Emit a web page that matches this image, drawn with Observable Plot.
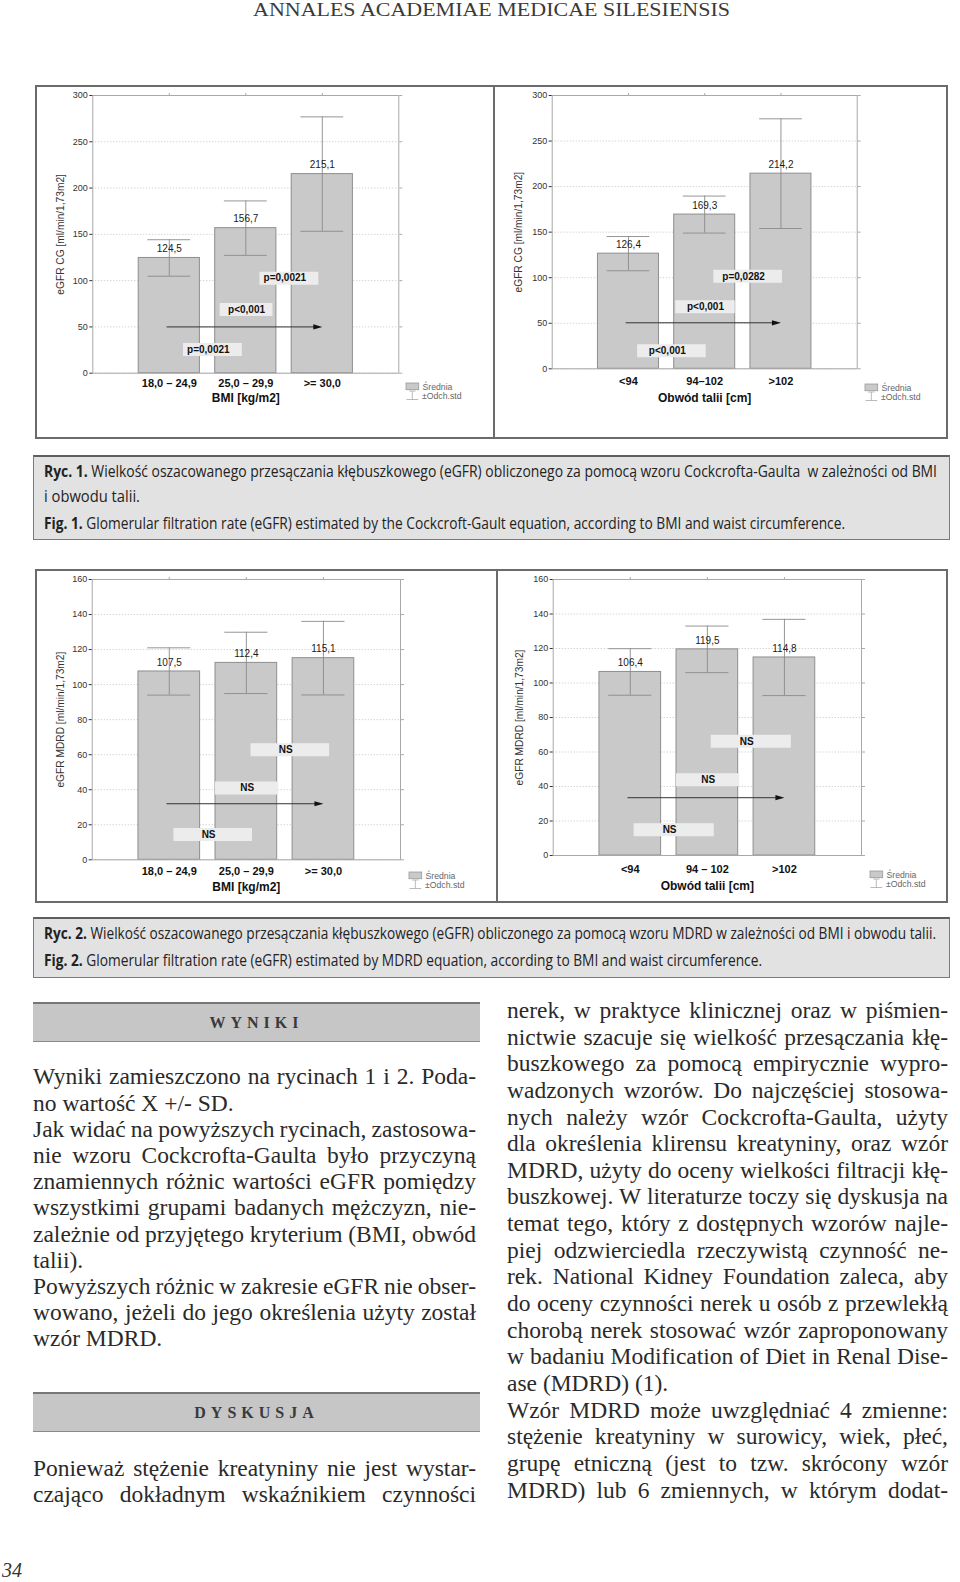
<!DOCTYPE html>
<html><head><meta charset="utf-8">
<script src="https://cdn.jsdelivr.net/npm/d3@7"></script>
<script src="https://cdn.jsdelivr.net/npm/@observablehq/plot@0.6"></script>
<style>
html,body{margin:0;padding:0;background:#fff;}
#page{position:relative;width:960px;height:1582px;overflow:hidden;background:#fff;}
.fig{position:absolute;border:2px solid #6b6b6b;box-sizing:border-box;}
.vdiv{position:absolute;width:2px;background:#6b6b6b;}
.cap{position:absolute;background:#e2e2e2;border:1.5px solid #7a7a7a;border-top:2.5px solid #5f5f5f;box-sizing:border-box;}
.capline{position:absolute;left:44px;font-family:"Open Sans",sans-serif;font-size:16px;line-height:18px;color:#222;white-space:nowrap;transform-origin:0 50%;}
.capline b{font-weight:700;}
.sec{position:absolute;left:33px;width:447px;height:40px;background:#c6c6c6;border-top:2px solid #777;border-bottom:1px solid #8a8a8a;box-sizing:border-box;font-family:"Liberation Serif",serif;font-weight:bold;font-size:16px;letter-spacing:5px;color:#3a3a3a;text-align:center;line-height:37px;}
.line{position:absolute;font-family:"Liberation Serif",serif;font-size:23.5px;color:#2a2a2a;white-space:nowrap;line-height:23.5px;transform-origin:0 50%;}
.chart{position:absolute;}
.chart svg{overflow:visible;}
.legend{position:absolute;}
</style></head><body><div id="page"></div>
<script>
// ---------------- DATA ----------------
const bmiCats = ["18,0 – 24,9", "25,0 – 29,9", ">= 30,0"];
const waistCatsCG = ["<94", "94–102", ">102"];
const waistCatsMDRD = ["<94", "94 – 102", ">102"];
const cgTicks = [0, 50, 100, 150, 200, 250, 300];
const mdrdTicks = [0, 20, 40, 60, 80, 100, 120, 140, 160];

const cgBmiMean = [124.5, 156.7, 215.1];
const cgBmiSD = [19.7, 29.4, 61.8];
const cgWaistMean = [126.4, 169.3, 214.2];
const cgWaistSD = [18.8, 20.3, 60.2];
const mdrdBmiMean = [107.5, 112.4, 115.1];
const mdrdBmiSD = [13.5, 17.5, 21.0];
const mdrdWaistMean = [106.4, 119.5, 114.8];
const mdrdWaistSD = [13.5, 13.5, 22.1];

const pairs = [[1, 2], [1, 3], [2, 3]];
const cgBmiP = ["p=0,0021", "p<0,001", "p=0,0021"];
const cgBmiPLevel = [25.6, 68.8, 102.6];
const cgWaistP = ["p<0,001", "p<0,001", "p=0,0282"];
const cgWaistPLevel = [19.9, 68.0, 101.5];
const mdrdBmiP = ["NS", "NS", "NS"];
const mdrdBmiPLevel = [14.4, 41.0, 62.8];
const mdrdWaistP = ["NS", "NS", "NS"];
const mdrdWaistPLevel = [14.9, 43.9, 66.2];
const arrowLevels = [50, 50.5, 32, 33.5];

const yLabelCG = "eGFR CG [ml/min/1,73m2]";
const yLabelMDRD = "eGFR MDRD [ml/min/1,73m2]";
const xLabelBMI = "BMI [kg/m2]";
const xLabelWaist = "Obwód talii [cm]";
const legendLabels = ["Średnia", "±Odch.std"];

const headerText = "ANNALES ACADEMIAE MEDICAE SILESIENSIS";
const caption1 = [
  "<b>Ryc. 1.</b> Wielkość oszacowanego przesączania kłębuszkowego (eGFR) obliczonego za pomocą wzoru Cockcrofta-Gaulta\u00a0 w zależności od BMI",
  "i obwodu talii.",
  "<b>Fig. 1.</b> Glomerular filtration rate (eGFR) estimated by the Cockcroft-Gault equation, according to BMI and waist circumference."
];
const caption2 = [
  "<b>Ryc. 2.</b> Wielkość oszacowanego przesączania kłębuszkowego (eGFR) obliczonego za pomocą wzoru MDRD w zależności od BMI i obwodu talii.",
  "<b>Fig. 2.</b> Glomerular filtration rate (eGFR) estimated by MDRD equation, according to BMI and waist circumference."
];
const leftLines1 = [
  "Wyniki zamieszczono na rycinach 1 i 2. Poda-",
  "no wartość X +/- SD.",
  "Jak widać na powyższych rycinach, zastosowa-",
  "nie wzoru Cockcrofta-Gaulta było przyczyną",
  "znamiennych różnic wartości eGFR pomiędzy",
  "wszystkimi grupami badanych mężczyzn, nie-",
  "zależnie od przyjętego kryterium (BMI, obwód",
  "talii).",
  "Powyższych różnic w zakresie eGFR nie obser-",
  "wowano, jeżeli do jego określenia użyty został",
  "wzór MDRD."
];
const leftLast1 = [1, 7, 10];
const leftLines2 = [
  "Ponieważ stężenie kreatyniny nie jest wystar-",
  "czająco dokładnym wskaźnikiem czynności"
];
const rightLines = [
  "nerek, w praktyce klinicznej oraz w piśmien-",
  "nictwie szacuje się wielkość przesączania kłę-",
  "buszkowego za pomocą empirycznie wypro-",
  "wadzonych wzorów. Do najczęściej stosowa-",
  "nych należy wzór Cockcrofta-Gaulta, użyty",
  "dla określenia klirensu kreatyniny, oraz wzór",
  "MDRD, użyty do oceny wielkości filtracji kłę-",
  "buszkowej. W literaturze toczy się dyskusja na",
  "temat tego, który z dostępnych wzorów najle-",
  "piej odzwierciedla rzeczywistą czynność ne-",
  "rek. National Kidney Foundation zaleca, aby",
  "do oceny czynności nerek u osób z przewlekłą",
  "chorobą nerek stosować wzór zaproponowany",
  "w badaniu Modification of Diet in Renal Dise-",
  "ase (MDRD) (1).",
  "Wzór MDRD może uwzględniać 4 zmienne:",
  "stężenie kreatyniny w surowicy, wiek, płeć,",
  "grupę etniczną (jest to tzw. skrócony wzór",
  "MDRD) lub 6 zmiennych, w którym dodat-"
];
const rightLast = [14];

// ---------------- LAYOUT HELPERS ----------------
const page = document.getElementById("page");
function el(tag, cls, css, html) {
  const e = document.createElement(tag);
  if (cls) e.className = cls;
  Object.assign(e.style, css || {});
  if (html != null) e.innerHTML = html;
  page.appendChild(e);
  return e;
}
function fit(e, W) {
  const w = e.getBoundingClientRect().width;
  e.style.transform = `scaleX(${W / w})`;
}
function justify(e, W) {
  const w = e.getBoundingClientRect().width;
  const n = (e.textContent.match(/ /g) || []).length;
  if (!n) return;
  const base = 5.9; // natural space width
  let ws = (W - w) / n;
  const minWs = 3.2 - base;
  if (ws < minWs) {
    ws = minWs;
    e.style.wordSpacing = ws + "px";
    const w2 = e.getBoundingClientRect().width;
    e.style.transform = `scaleX(${W / w2})`;
  } else {
    e.style.wordSpacing = ws + "px";
  }
}

// header
const hdr = el("div", null, {position: "absolute", left: "253px", top: "0px", fontFamily: '"Liberation Serif", serif', fontSize: "19px", lineHeight: "19px", color: "#3a3a3a", whiteSpace: "nowrap", transformOrigin: "0 50%"}, headerText);
fit(hdr, 477);

// figure frames
el("div", "fig", {left: "35px", top: "85px", width: "913px", height: "354px"});
el("div", "vdiv", {left: "492.5px", top: "85px", height: "354px"});
el("div", "fig", {left: "35px", top: "568.5px", width: "913px", height: "334px"});
el("div", "vdiv", {left: "495.5px", top: "568.5px", height: "334px"});

// captions
el("div", "cap", {left: "33px", top: "455px", width: "917px", height: "85px"});
el("div", "cap", {left: "33px", top: "916.5px", width: "917px", height: "61px"});
const cap1Y = [471, 495.5, 523], cap1W = [893, 96, 801];
caption1.forEach((t, k) => fit(el("div", "capline", {top: (cap1Y[k] - 9) + "px"}, t), cap1W[k]));
const cap2Y = [933, 960], cap2W = [892, 718];
caption2.forEach((t, k) => fit(el("div", "capline", {top: (cap2Y[k] - 9) + "px"}, t), cap2W[k]));

// section headers
el("div", "sec", {top: "1001.7px"}, "WYNIKI");
el("div", "sec", {top: "1392.3px"}, "DYSKUSJA");

// body text
const asc = 0.8375 * 23.5;
function textBlock(lines, x, W, y0, step, lastIdx) {
  lines.forEach((t, k) => {
    const e = el("div", "line", {left: x + "px", top: (y0 + k * step - asc) + "px"}, t);
    if (!lastIdx.includes(k)) justify(e, W);
  });
}
textBlock(leftLines1, 33, 443, 1085, 26.2, leftLast1);
textBlock(leftLines2, 33, 443, 1476.7, 26.3, []);
textBlock(rightLines, 507, 441, 1018.7, 26.64, rightLast);

// page number
el("div", null, {position: "absolute", left: "2px", top: "1560px", fontFamily: '"Liberation Serif", serif', fontStyle: "italic", fontSize: "20px", lineHeight: "20px", color: "#333"}, "34");

// ---------------- CHARTS ----------------
const fmt = v => d3.format(".1f")(v).replace(".", ",");
const arrowHead = {draw(ctx) { ctx.moveTo(0, 0); ctx.lineTo(-9, -2.6); ctx.lineTo(-9, 2.6); ctx.closePath(); }};

function makeChart(cfg) {
  const bars = cfg.cats.map((c, k) => ({i: k + 1, mean: cfg.means[k], sd: cfg.sds[k]}));
  const comps = pairs.map(([a, b], k) => ({a, b, level: cfg.levels[k], label: cfg.labels[k]}));
  const adj = d => d.b - d.a === 1;
  const half = d => (adj(d) ? cfg.boxW[0] : cfg.boxW[1]) / 2;
  const mid = d => (d.a + d.b) / 2 + (adj(d) ? 0.07 : 0.01);
  return Plot.plot({
    width: cfg.W, height: cfg.H,
    marginLeft: cfg.m[0], marginRight: cfg.m[1], marginTop: cfg.m[2], marginBottom: cfg.m[3],
    style: {fontFamily: '"Liberation Sans", Arial, sans-serif', background: "transparent", overflow: "visible"},
    x: {domain: [0, 4], axis: null, label: null},
    y: {domain: [0, cfg.yMax], axis: null, label: null},
    marks: [
      Plot.gridY(cfg.ticks, {stroke: "#c2c2c2", strokeOpacity: 1, strokeDasharray: "1,2"}),
      Plot.rect(bars, {x1: d => d.i - 0.4, x2: d => d.i + 0.4, y1: 0, y2: "mean", fill: "#c9c9c9", stroke: "#8e8e8e", strokeWidth: 1}),
      Plot.ruleY(comps, {y: "level", x1: d => mid(d) - half(d), x2: d => mid(d) + half(d), stroke: "#ececec", strokeWidth: 13}),
      Plot.ruleY([cfg.arrow], {y: d => d, x1: 0.97, x2: 2.95, stroke: "#333", strokeWidth: 1}),
      Plot.dot([cfg.arrow], {x: 3, y: d => d, symbol: arrowHead, fill: "#111", r: 5}),
      Plot.ruleX(bars, {x: "i", y1: d => d.mean - d.sd, y2: d => d.mean + d.sd, stroke: "#8a8a8a", strokeWidth: 0.9}),
      Plot.ruleY(bars, {y: d => d.mean + d.sd, x1: d => d.i - 0.28, x2: d => d.i + 0.28, stroke: "#8a8a8a", strokeWidth: 0.9}),
      Plot.ruleY(bars, {y: d => d.mean - d.sd, x1: d => d.i - 0.28, x2: d => d.i + 0.28, stroke: "#8a8a8a", strokeWidth: 0.9}),
      Plot.text(bars, {x: "i", y: "mean", text: d => fmt(d.mean), dy: -9, fontSize: 10, fill: "#1a1a1a"}),
      Plot.text(comps, {x: d => (d.a + d.b) / 2 + 0.01, y: "level", text: "label", fontWeight: "bold", fontSize: 10, fill: "#111"}),
      Plot.frame({stroke: "#a8a8a8"}),
      Plot.axisY(cfg.ticks, {tickSize: 3, tickPadding: 2, fontSize: 9, color: "#333", label: null}),
      Plot.axisY(cfg.ticks, {anchor: "right", tickSize: 3, tickFormat: () => "", color: "#aaa", label: null}),
      Plot.axisX([1, 2, 3], {tickFormat: i => cfg.cats[i - 1], tickSize: 0, tickPadding: cfg.tickPad, fontSize: 11, fontWeight: "bold", color: "#111", label: null}),
      Plot.axisX([1, 2, 3], {anchor: "top", tickSize: 3, tickFormat: () => "", color: "#aaa", label: null}),
      Plot.text([cfg.xLabel], {frameAnchor: "bottom", textAnchor: "middle", dy: cfg.xLabelDy, fontSize: 12, fontWeight: "bold", fill: "#111"}),
      Plot.text([cfg.yLabel], {frameAnchor: "left", textAnchor: "middle", lineAnchor: "middle", rotate: -90, dx: cfg.yLabelDx, fontSize: 10.2, fill: "#333"})
    ]
  });
}

function legend(x, y) {
  const ns = "http://www.w3.org/2000/svg";
  const div = el("div", "legend", {left: (x - 2) + "px", top: (y - 2) + "px"});
  div.innerHTML = `<svg xmlns="${ns}" width="70" height="22" style="font-family:'Liberation Sans',Arial,sans-serif;font-size:8.7px;fill:#666">
    <rect x="2" y="2" width="12.7" height="6.7" fill="#c9c9c9" stroke="#999" stroke-width="0.8"/>
    <line x1="8.3" x2="8.3" y1="10" y2="18.5" stroke="#aaa" stroke-width="0.8"/>
    <line x1="2.5" x2="14.2" y1="18.5" y2="18.5" stroke="#aaa" stroke-width="0.8"/>
    <line x1="5" x2="11.6" y1="10" y2="10" stroke="#aaa" stroke-width="0.8"/>
    <text x="18.5" y="8.7">${legendLabels[0]}</text>
    <text x="18" y="18.2">${legendLabels[1]}</text>
  </svg>`;
}

const specs = [
  {pos: [38, 87], W: 452, H: 350, m: [54.3, 91.7, 8, 64.3], tickPad: 6.1, xLabelDy: 29, yLabelDx: -32.3,
   cats: bmiCats, means: cgBmiMean, sds: cgBmiSD, labels: cgBmiP, levels: cgBmiPLevel, arrow: arrowLevels[0],
   yMax: 300, ticks: cgTicks, xLabel: xLabelBMI, yLabel: yLabelCG, boxW: [0.77, 0.69], leg: [406, 383.3]},
  {pos: [496, 87], W: 450, H: 350, m: [55.7, 89.3, 8, 68.7], tickPad: 8.8, xLabelDy: 32.7, yLabelDx: -33.7,
   cats: waistCatsCG, means: cgWaistMean, sds: cgWaistSD, labels: cgWaistP, levels: cgWaistPLevel, arrow: arrowLevels[1],
   yMax: 300, ticks: cgTicks, xLabel: xLabelWaist, yLabel: yLabelCG, boxW: [0.9, 0.78], leg: [865, 383.7]},
  {pos: [38, 572], W: 454, H: 328, m: [53.7, 92, 7, 40.7], tickPad: 7.5, xLabelDy: 30.7, yLabelDx: -31.7,
   cats: bmiCats, means: mdrdBmiMean, sds: mdrdBmiSD, labels: mdrdBmiP, levels: mdrdBmiPLevel, arrow: arrowLevels[2],
   yMax: 160, ticks: mdrdTicks, xLabel: xLabelBMI, yLabel: yLabelMDRD, boxW: [1.02, 0.82], leg: [409.3, 871.7]},
  {pos: [498, 572], W: 448, H: 328, m: [54.7, 85, 7, 45], tickPad: 9.4, xLabelDy: 34, yLabelDx: -33.4,
   cats: waistCatsMDRD, means: mdrdWaistMean, sds: mdrdWaistSD, labels: mdrdWaistP, levels: mdrdWaistPLevel, arrow: arrowLevels[3],
   yMax: 160, ticks: mdrdTicks, xLabel: xLabelWaist, yLabel: yLabelMDRD, boxW: [1.04, 0.82], leg: [870, 871]}
];

specs.forEach(s => {
  const holder = el("div", "chart", {left: s.pos[0] + "px", top: s.pos[1] + "px"});
  holder.appendChild(makeChart(s));
  legend(s.leg[0], s.leg[1]);
});
</script></body></html>
